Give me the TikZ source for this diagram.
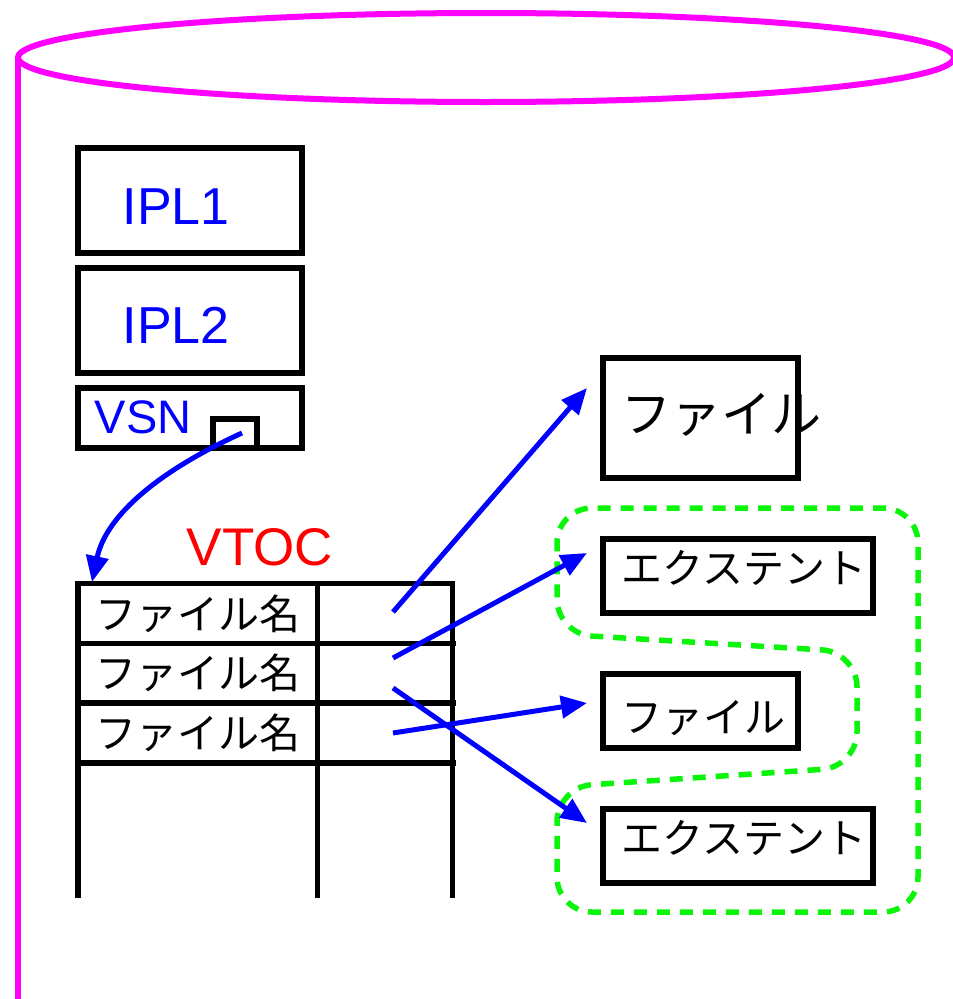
\documentclass[tikz,border=0pt]{standalone}
\usepackage{fontspec}
\setmainfont{Liberation Sans}
\newfontfamily\jpfont{Noto Sans CJK JP}
\usetikzlibrary{arrows.meta}
\definecolor{grn}{RGB}{10,245,10}
\definecolor{disk}{RGB}{255,0,255}

\begin{document}
\begin{tikzpicture}[x=1pt,y=-1pt,line width=5.5pt,
	box/.style={rectangle,draw,inner sep=0,line width=6pt},
	lbl/.style={inner sep=0,anchor=base west,text=blue,font=\fontsize{52}{52}\selectfont},
	jp/.style={inner sep=0,font=\jpfont\fontsize{41}{41}\selectfont},
	ptr/.style={draw=blue,line width=5pt,-{Triangle[length=26pt,width=22pt]}}]
	\useasboundingbox (0,0) rectangle (953,999);
	% disk
	\draw [disk,line width=6pt] (486,57.5) ellipse [x radius=468,y radius=44.5];
	\draw [disk,line width=6pt] (18,57.5) -- (18,999);
	% boxes
	\node at (190,200.5) [box,minimum width=224,minimum height=105] (ipl1) {};
	\node at (190,320.5) [box,minimum width=224,minimum height=105] (ipl2) {};
	\node at (190,417.75) [box,minimum width=224,minimum height=59.5] (vsn) {};
	\node at (234.75,433) [box,minimum width=43.5,minimum height=29] (slot) {};
	\node at (700.25,417.75) [box,minimum width=194.5,minimum height=119.5] (file1) {};
	\node at (737.75,575.75) [box,minimum width=269.5,minimum height=73.5] (ext1) {};
	\node at (700.25,710.75) [box,minimum width=194.5,minimum height=73.5] (file2) {};
	\node at (737.75,846) [box,minimum width=269.5,minimum height=74] (ext2) {};
	\node at (120,224) [lbl] (t1) {IPL1};
	\node at (120,343) [lbl] (t2) {IPL2};
	\node at (92,433) [lbl,font=\fontsize{47}{47}\selectfont] (t3) {VSN};
	\node at (184,565) [lbl,text=red,font=\fontsize{53}{53}\selectfont] (vtoc) {VTOC};
	% VTOC table
	\draw (78,898) -- (78,583.5) -- (452.5,583.5) -- (452.5,898);
	\draw (317.5,583.5) -- (317.5,898);
	\draw (75,643.5) -- (455.5,643.5);
	\draw (75,703) -- (455.5,703);
	\draw (75,763) -- (455.5,763);
	\node at (197.5,613.5) [jp] (n1) {ファイル名};
	\node at (197.5,673) [jp] (n2) {ファイル名};
	\node at (197.5,733) [jp] (n3) {ファイル名};
	\node at (721.5,415) [jp,font=\jpfont\fontsize{50}{50}\selectfont] (f1) {ファイル};
	\node at (744,568) [jp] (e1) {エクステント};
	\node at (703,718) [jp] (f2) {ファイル};
	\node at (744,838) [jp] (e2) {エクステント};
	% file grouping
	\draw [grn,dash pattern=on 13pt off 10pt,rounded corners=35] (700,508) -- (918,508) -- (918,912) -- (557,912) -- (557,787) -- (857,767) -- (857,652) -- (557,634) -- (557,508) -- cycle;
	% pointers
	\coordinate (v0) at (242,433);
	\coordinate (v1) at (92,582);
	\coordinate (s1) at (393,612);
	\coordinate (s2) at (393,658);
	\coordinate (s3) at (393,733);
	\coordinate (s4) at (393,688);
	\coordinate (d1) at (587,388);
	\coordinate (d2) at (587,553);
	\coordinate (d3) at (587,703);
	\coordinate (d4) at (587,823);
	\draw [ptr] (v0) .. controls (150,475) and (105,520) .. (v1);
	\draw [ptr] (s1) to (d1);
	\draw [ptr] (s2) to (d2);
	\draw [ptr] (s3) to (d3);
	\draw [ptr] (s4) to (d4);
\end{tikzpicture}
\end{document}
